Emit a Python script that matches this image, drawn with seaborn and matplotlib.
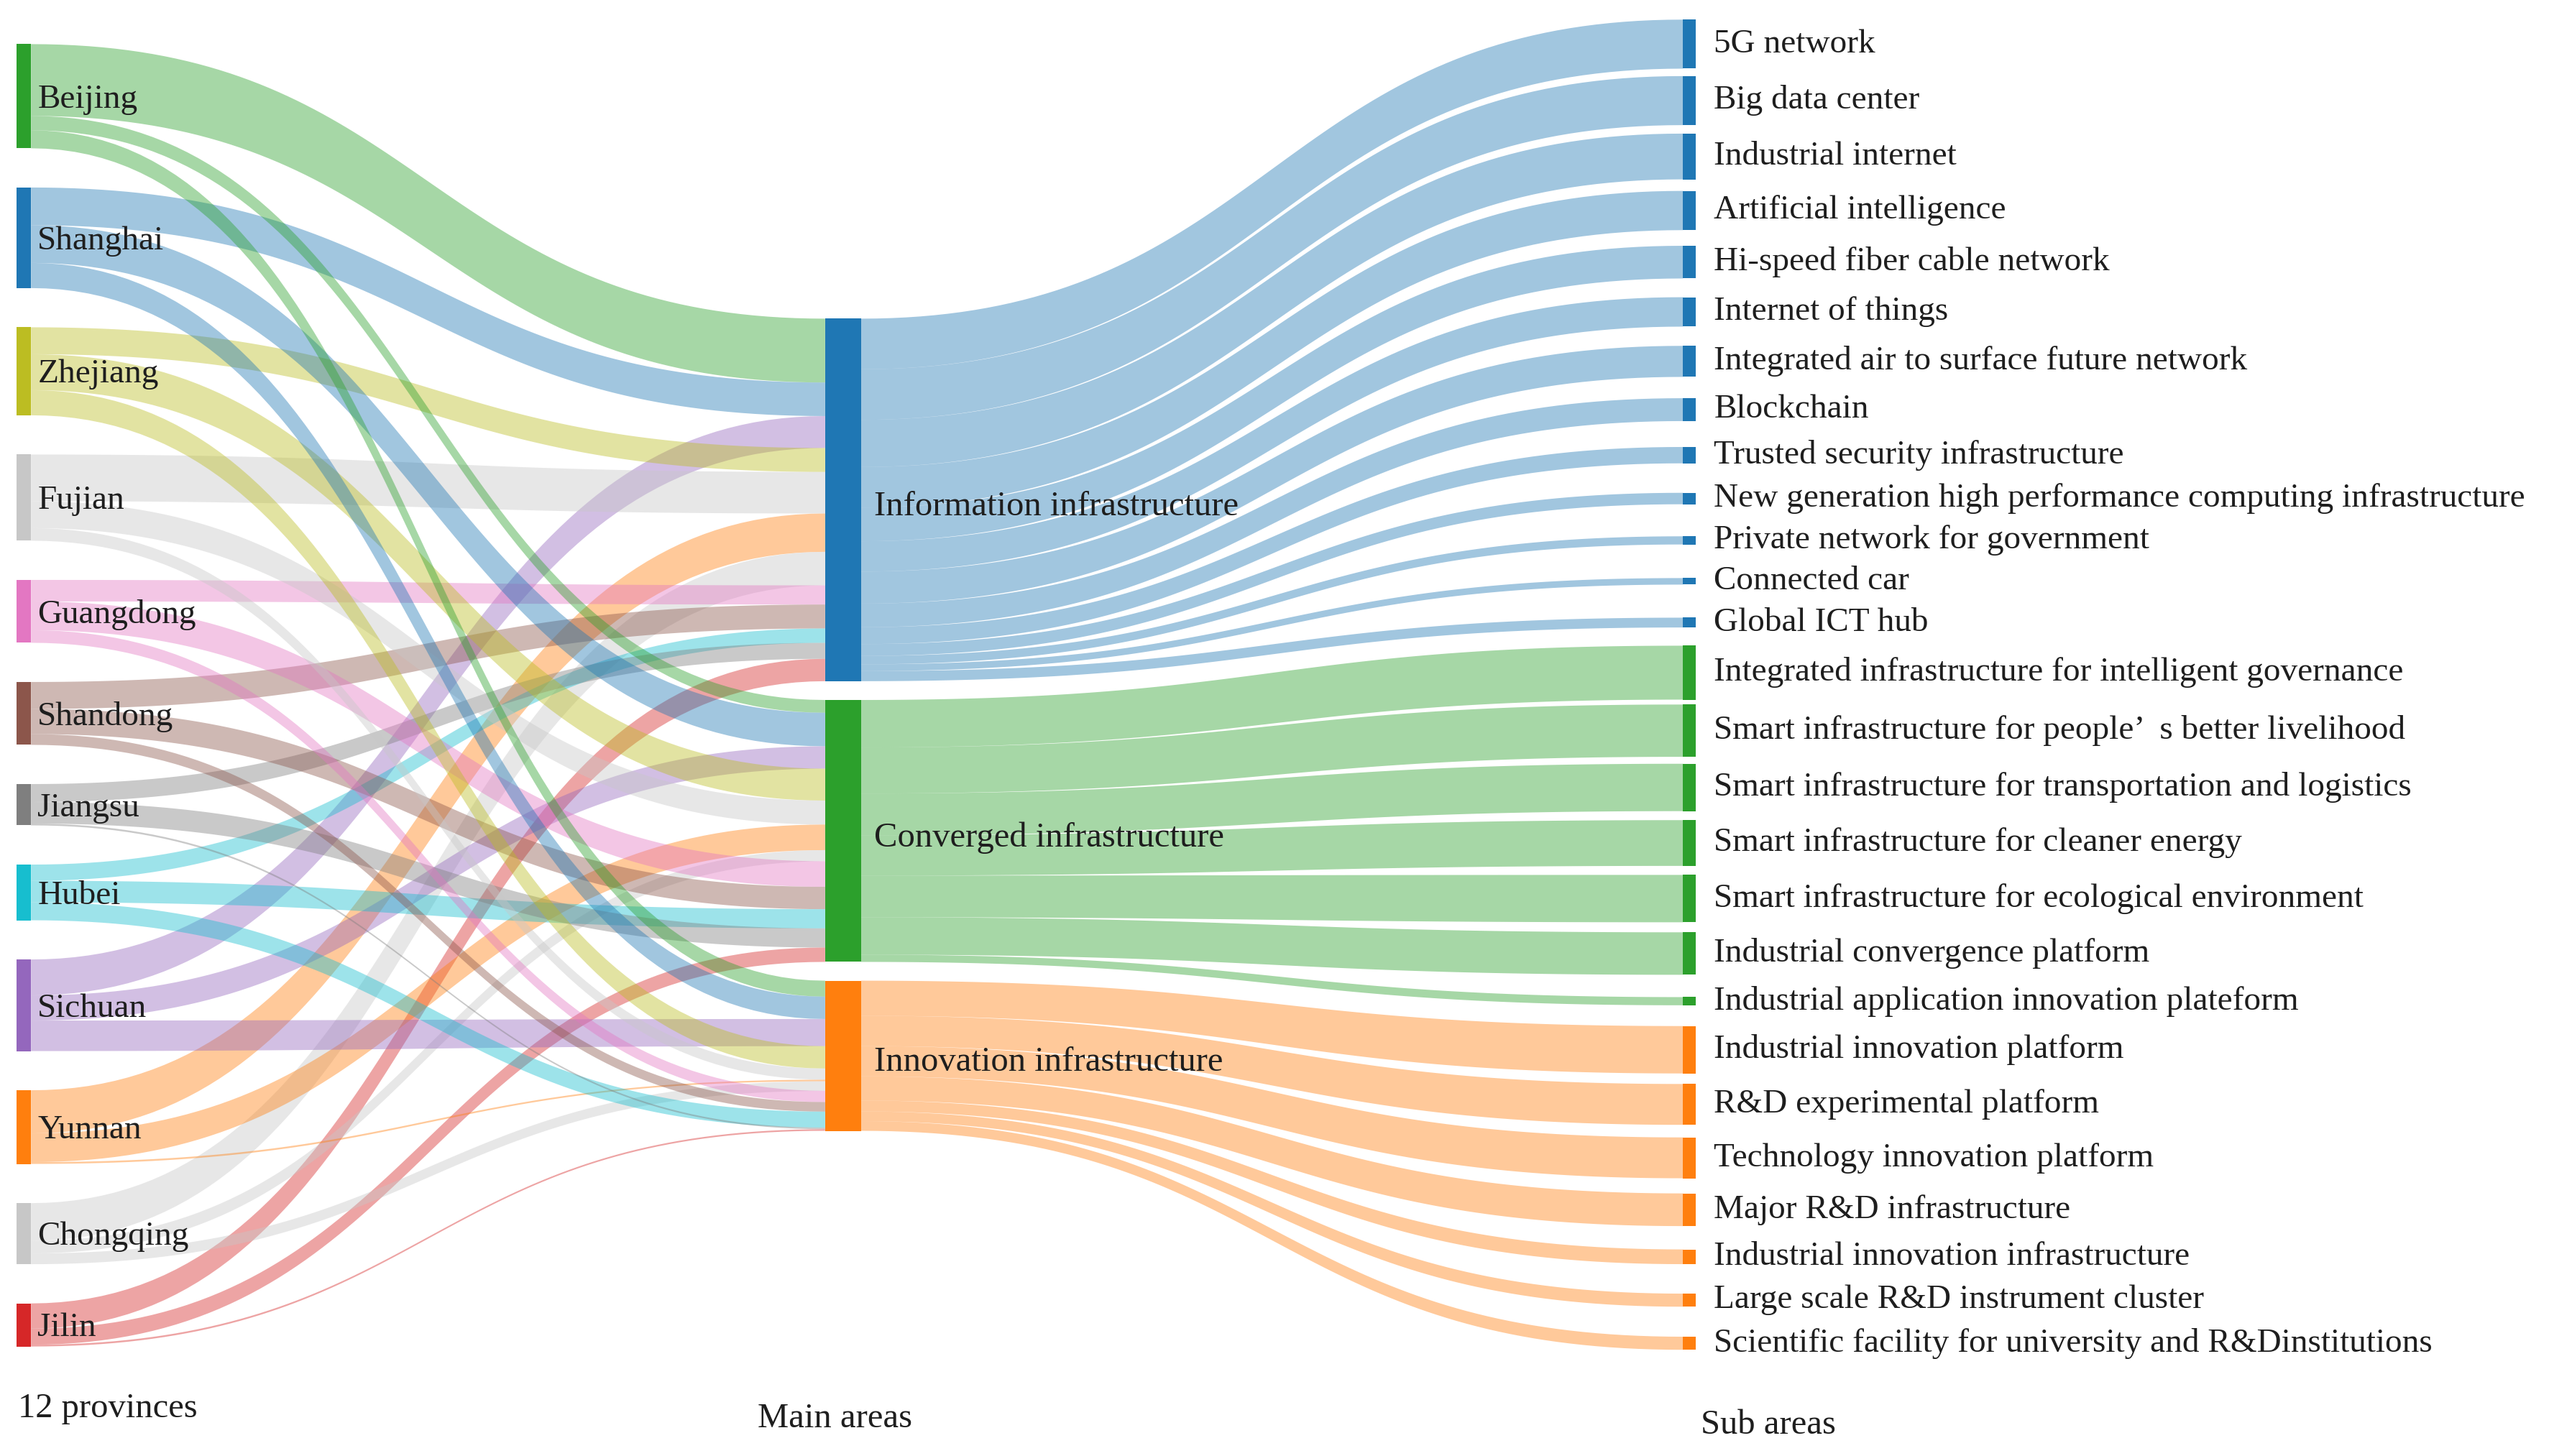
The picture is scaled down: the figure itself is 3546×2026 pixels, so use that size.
import matplotlib
matplotlib.use("agg")
import matplotlib.pyplot as plt
import seaborn as sns
import numpy as np

sns.set_style("white")
plt.rcParams["font.family"] = ["Liberation Serif", "DejaVu Serif"]

# ---- data ----
provinces = ["Beijing", "Shanghai", "Zhejiang", "Fujian", "Guangdong", "Shandong",
             "Jiangsu", "Hubei", "Sichuan", "Yunnan", "Chongqing", "Jilin"]
province_colors = ["#2ca02c", "#1f77b4", "#bcbd22", "#c7c7c7", "#e377c2", "#8c564b",
                   "#7f7f7f", "#17becf", "#9467bd", "#ff7f0e", "#c7c7c7", "#d62728"]

areas = ["Information infrastructure", "Converged infrastructure", "Innovation infrastructure"]
area_colors = sns.color_palette(["#1f77b4", "#2ca02c", "#ff7f0e"])

to_info = [40, 21, 15, 26, 12, 15, 10, 9, 20, 24, 21, 14]
to_conv = [8, 21, 20, 15, 16, 14, 12, 12, 14, 16, 7, 9]
to_innov = [10, 14, 14, 7, 7, 6, 1, 10, 17, 1, 6, 1]

# order in which the province flows arrive at each main area (top to bottom)
arrival_order = ["Beijing", "Shanghai", "Sichuan", "Zhejiang", "Fujian", "Yunnan",
                 "Chongqing", "Guangdong", "Shandong", "Hubei", "Jiangsu", "Jilin"]

info_subs = ["5G network", "Big data center", "Industrial internet", "Artificial intelligence",
             "Hi-speed fiber cable network", "Internet of things",
             "Integrated air to surface future network", "Blockchain",
             "Trusted security infrastructure",
             "New generation high performance computing infrastructure",
             "Private network for government", "Connected car", "Global ICT hub"]
info_vals = [30, 30, 28, 24, 20, 18, 19, 14, 10, 7, 5, 4, 6]

conv_subs = ["Integrated infrastructure for intelligent governance",
             "Smart infrastructure for people\u2019  s better livelihood",
             "Smart infrastructure for transportation and logistics",
             "Smart infrastructure for cleaner energy",
             "Smart infrastructure for ecological environment",
             "Industrial convergence platform",
             "Industrial application innovation plateform"]
conv_vals = [33, 32, 29, 28, 29, 26, 5]

innov_subs = ["Industrial innovation platform", "R&D experimental platform",
              "Technology innovation platform", "Major R&D infrastructure",
              "Industrial innovation infrastructure", "Large scale R&D instrument cluster",
              "Scientific facility for university and R&Dinstitutions"]
innov_vals = [29, 25, 25, 20, 9, 8, 8]

column_titles = ["12 provinces", "Main areas", "Sub areas"]


# ---- layout helpers ----
def stack_const(vals, top, bottom, pad):
    vals = np.asarray(vals, float)
    k = (bottom - top - pad * (len(vals) - 1)) / vals.sum()
    h = vals * k
    tops = top + np.concatenate([[0], np.cumsum(h[:-1] + pad)])
    return tops, h, k


def stack_slot(vals, top, bottom, fill, b):
    vals = np.asarray(vals, float)
    h = vals * fill * (bottom - top) / vals.sum()
    ends = (h[0] + h[-1]) / 2
    a = ((bottom - top) - ends - b * (h.sum() - ends)) / (len(h) - 1)
    centers = top + h[0] / 2 + np.concatenate([[0], np.cumsum(a + b * (h[:-1] + h[1:]) / 2)])
    return centers - h / 2, h


def band(ax, x0, x1, y0t, y0b, y1t, y1b, color, alpha=0.42):
    t = np.linspace(0, 1, 80)
    xm = (x0 + x1) / 2
    x = (1 - t) ** 3 * x0 + 3 * (1 - t) ** 2 * t * xm + 3 * (1 - t) * t ** 2 * xm + t ** 3 * x1
    w0 = (1 - t) ** 3 + 3 * (1 - t) ** 2 * t
    yt = w0 * y0t + (1 - w0) * y1t
    yb = w0 * y0b + (1 - w0) * y1b
    ax.fill(np.r_[x, x[::-1]], np.r_[yt, yb[::-1]], color=color, alpha=alpha, lw=0)


flows = np.array([to_info, to_conv, to_innov], float).T  # provinces x areas
sub_vals = [info_vals, conv_vals, innov_vals]
sub_names = [info_subs, conv_subs, innov_subs]

# columns
left_x0, left_x1 = 10, 19
mid_x0, mid_x1 = 505, 527
right_x0, right_x1 = 1030, 1038

left_tops, left_h, kL = stack_const(flows.sum(axis=1), 27, 824, 24)
mid_tops, mid_h, kM = stack_const(flows.sum(axis=0), 195, 692, 11.5)
all_sub = np.concatenate([np.asarray(v, float) for v in sub_vals])
right_tops, right_h = stack_slot(all_sub, 12, 826, 0.64, 0.373)

fig = plt.figure(figsize=(35.46, 20.26), dpi=100)
ax = fig.add_axes([0, 0, 1, 1])
ax.set_xlim(0, 1560)
ax.set_ylim(891, 0)
ax.axis("off")

txt = "#1e1e1e"

# province -> main area links
src_off = left_tops.copy()
src_pos = {}
for i in range(len(provinces)):
    for j in range(len(areas)):
        w = flows[i, j] * kL
        src_pos[(i, j)] = (src_off[i], src_off[i] + w)
        src_off[i] += w
for j in range(len(areas)):
    off = mid_tops[j]
    for name in arrival_order:
        i = provinces.index(name)
        w = flows[i, j] * kM
        s0, s1 = src_pos[(i, j)]
        band(ax, left_x1, mid_x0, s0, s1, off, off + w, province_colors[i])
        off += w

# main area -> sub area links
r = 0
for j in range(len(areas)):
    vals = np.asarray(sub_vals[j], float)
    off = mid_tops[j]
    for v in vals:
        w = v / vals.sum() * mid_h[j]
        band(ax, mid_x1, right_x0, off, off + w, right_tops[r], right_tops[r] + right_h[r],
             area_colors[j])
        off += w
        r += 1

# node bars and labels
for i, name in enumerate(provinces):
    ax.add_patch(plt.Rectangle((left_x0, left_tops[i]), left_x1 - left_x0, left_h[i],
                               color=province_colors[i], lw=0))
    ax.text(23, left_tops[i] + left_h[i] / 2 + 2, name, ha="left", va="center",
            fontsize=34, color=txt)

for j, name in enumerate(areas):
    ax.add_patch(plt.Rectangle((mid_x0, mid_tops[j]), mid_x1 - mid_x0, mid_h[j],
                               color=area_colors[j], lw=0))
    ax.text(mid_x1 + 8, mid_tops[j] + mid_h[j] / 2 + 4, name, ha="left", va="center",
            fontsize=35, color=txt)

r = 0
for j in range(len(areas)):
    for name in sub_names[j]:
        ax.add_patch(plt.Rectangle((right_x0, right_tops[r]), right_x1 - right_x0, right_h[r],
                                   color=area_colors[j], lw=0))
        ax.text(1049, right_tops[r] + right_h[r] / 2, name, ha="left", va="center",
                fontsize=34, color=txt)
        r += 1

ax.text(11, 862, column_titles[0], ha="left", va="center", fontsize=35, color=txt)
ax.text(511, 868, column_titles[1], ha="center", va="center", fontsize=35, color=txt)
ax.text(1082, 872, column_titles[2], ha="center", va="center", fontsize=35, color=txt)

fig.savefig("out.png", dpi=100)
plt.close()
